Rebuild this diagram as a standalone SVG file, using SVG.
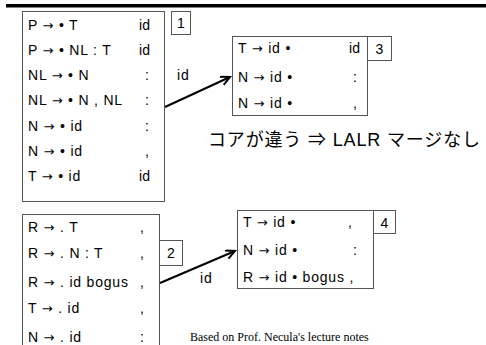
<svg xmlns="http://www.w3.org/2000/svg" width="486" height="345" viewBox="0 0 486 345" xml:space="preserve">
<defs>
<style>
.box{fill:#fff;stroke:#555;stroke-width:1}
.t{font-family:"Liberation Sans",Arial,sans-serif;font-size:14px;fill:#000;letter-spacing:0.8px}
.a{font-family:"DejaVu Sans",sans-serif;font-size:13px;letter-spacing:0.8px}
.e{text-anchor:end;letter-spacing:0}
.m{text-anchor:middle;letter-spacing:0}
.jp{font-family:"Liberation Sans","Noto Sans CJK JP",sans-serif;font-size:18px;fill:#000}
.note{font-family:"Liberation Serif","Times New Roman",serif;font-size:12px;fill:#000}
.edge{stroke:#000;stroke-width:2;fill:none}
</style>
<marker id="ah" markerWidth="12" markerHeight="12" refX="10" refY="5" orient="auto" markerUnits="userSpaceOnUse">
<path d="M1,0.5 L10,5 L1,9.5" fill="none" stroke="#000" stroke-width="2"/>
</marker>
</defs>
<rect x="6" y="4" width="480" height="3.5" fill="#000"/>

<g id="state1">
<rect class="box" x="22.5" y="11.5" width="142" height="190"/>
<rect class="box" x="171.5" y="11.5" width="19" height="23"/>
<text class="t m" x="181" y="28">1</text>
<text class="t" x="28" y="30">P <tspan class="a">→</tspan> • T</text><text class="t e" x="150" y="30">id</text>
<text class="t" x="28" y="55">P <tspan class="a">→</tspan> • NL : T</text><text class="t e" x="150" y="55">id</text>
<text class="t" x="28" y="80">NL <tspan class="a">→</tspan> • N</text><text class="t" x="145" y="80">:</text>
<text class="t" x="28" y="105">NL <tspan class="a">→</tspan> • N , NL</text><text class="t" x="145" y="105">:</text>
<text class="t" x="28" y="131">N <tspan class="a">→</tspan> • id</text><text class="t" x="145" y="131">:</text>
<text class="t" x="28" y="156">N <tspan class="a">→</tspan> • id</text><text class="t" x="145" y="156">,</text>
<text class="t" x="28" y="181">T <tspan class="a">→</tspan> • id</text><text class="t e" x="150" y="181">id</text>
</g>

<g id="state3">
<rect class="box" x="232.5" y="36.5" width="135" height="79"/>
<rect class="box" x="367.5" y="36.5" width="24" height="24"/>
<text class="t m" x="379.5" y="54">3</text>
<text class="t" x="238" y="53">T <tspan class="a">→</tspan>  id •</text><text class="t e" x="360" y="53">id</text>
<text class="t" x="238" y="82">N <tspan class="a">→</tspan>  id •</text><text class="t" x="353" y="82">:</text>
<text class="t" x="238" y="108">N <tspan class="a">→</tspan>  id •</text><text class="t" x="353" y="108">,</text>
</g>

<g id="state2">
<rect class="box" x="22.5" y="214.5" width="137" height="140"/>
<rect class="box" x="159.5" y="240.5" width="23" height="25"/>
<text class="t m" x="171" y="258">2</text>
<text class="t" x="28" y="232">R <tspan class="a">→</tspan> . T</text><text class="t" x="140" y="232">,</text>
<text class="t" x="28" y="258">R <tspan class="a">→</tspan> . N : T</text><text class="t" x="140" y="258">,</text>
<text class="t" x="28" y="287">R <tspan class="a">→</tspan> . id bogus</text><text class="t" x="140" y="287">,</text>
<text class="t" x="28" y="313">T <tspan class="a">→</tspan> . id</text><text class="t" x="140" y="313">,</text>
<text class="t" x="28" y="342">N <tspan class="a">→</tspan> . id</text><text class="t" x="140" y="342">:</text>
</g>

<g id="state4">
<rect class="box" x="237.5" y="210.5" width="136" height="78"/>
<rect class="box" x="373.5" y="210.5" width="22" height="23"/>
<text class="t m" x="384.5" y="228">4</text>
<text class="t" x="243" y="227">T <tspan class="a">→</tspan>  id •</text><text class="t" x="348" y="227">,</text>
<text class="t" x="243" y="255">N <tspan class="a">→</tspan>  id •</text><text class="t" x="353" y="255">:</text>
<text class="t" x="243" y="282">R <tspan class="a">→</tspan> id • bogus ,</text>
</g>

<g id="connectors">
<line class="edge" x1="165" y1="107" x2="230" y2="77" marker-end="url(#ah)"/>
<text class="t" x="177" y="80">id</text>
<line class="edge" x1="160" y1="283" x2="235" y2="251" marker-end="url(#ah)"/>
<text class="t" x="200" y="283">id</text>
</g>

<text class="jp" x="208" y="146" textLength="272" lengthAdjust="spacing">コアが違う ⇒  LALR マージなし</text>
<text class="note" x="190" y="341">Based on Prof.  Necula's lecture notes</text>
</svg>
